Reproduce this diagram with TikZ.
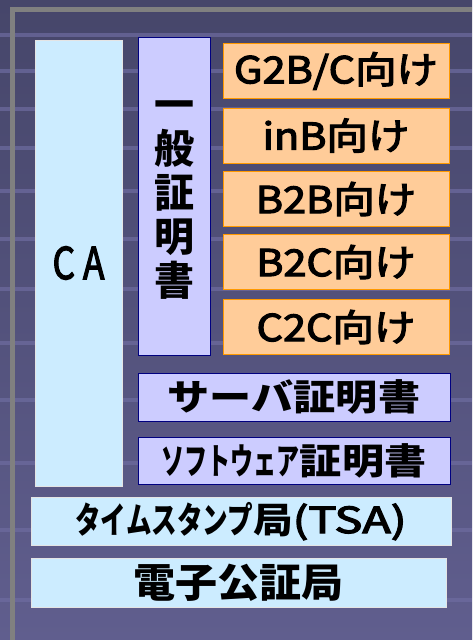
\documentclass[tikz,border=0pt]{standalone}
\usepackage{fontspec}
\usepackage{graphicx}
\newfontfamily\jp{Noto Sans CJK JP}
\newfontfamily\jpmed[FakeBold=3]{Noto Sans CJK JP}
\definecolor{bgtop}{HTML}{46466A}
\definecolor{bgbot}{HTML}{605E8E}
\definecolor{stripec}{HTML}{6E6CA0}
\definecolor{lblue}{HTML}{CCECFF}
\definecolor{lbord}{HTML}{E4E4E4}
\definecolor{lav}{HTML}{CCCCFF}
\definecolor{navy}{HTML}{000080}
\definecolor{org}{HTML}{FFCC99}
\definecolor{orgb}{HTML}{FF9900}
\definecolor{frame}{HTML}{808080}
\begin{document}
\begin{tikzpicture}[x=1pt,y=-1pt,
  box/.style={draw, line width=1pt, inner sep=0pt, text=black},
  lbluebox/.style={box, fill=lblue, draw=lbord},
  lavbox/.style={box, fill=lav, draw=navy},
  orgbox/.style={box, fill=org, draw=orgb, minimum width=226pt, minimum height=55pt,
    font=\jpmed\fontsize{37}{37}\selectfont},
  stripe/.style={line width=4pt, stripec, opacity=0.7},
  grayframe/.style={line width=5pt, frame}]
\useasboundingbox (0,0) rectangle (472,640);
\shade[top color=bgtop, bottom color=bgbot] (0,0) rectangle (472,640);
\foreach \yy in {35,71,109,148,191,239,289,343,400,463,530,600}
  \draw[stripe] (0,\yy) -- (472,\yy);
\draw[grayframe] (12,640) -- (12,9) -- (472,9);

\node[lbluebox, minimum width=87pt, minimum height=446pt,
  font=\jpmed\fontsize{44}{44}\selectfont] (ca) at (78.5,263)
  {\raisebox{-3pt}{\scalebox{0.8}[1]{C\hspace{10pt}A}}};

\node[lavbox, minimum width=72pt, minimum height=318pt] (gen) at (174,196) {};
\node[align=center, inner sep=0pt, text=black,
  font=\jp\bfseries\fontsize{40}{44}\selectfont] (genlabel) at (174,200)
  {一\\般\\証\\明\\書};

\node[orgbox] (g2b) at (336,71) {\scalebox{1.12}[1]{G2B/C向け}};
\node[orgbox] (inb) at (336,135.5) {\scalebox{1.12}[1]{inB向け}};
\node[orgbox] (b2b) at (336,199) {\scalebox{1.12}[1]{B2B向け}};
\node[orgbox] (b2c) at (336,262) {\scalebox{1.12}[1]{B2C向け}};
\node[orgbox] (c2c) at (336,327) {\scalebox{1.12}[1]{C2C向け}};

\node[lavbox, minimum width=312pt, minimum height=48pt,
  font=\jp\bfseries\fontsize{36}{36}\selectfont] (srv) at (294,397)
  {\scalebox{1.17}[1]{サーバ証明書}};
\node[lavbox, minimum width=312pt, minimum height=47pt,
  font=\jp\bfseries\fontsize{36}{36}\selectfont] (sw) at (294,460.5)
  {\scalebox{0.64}[1]{ソフトウェア}\scalebox{1.17}[1]{証明書}};

\node[lbluebox, minimum width=420pt, minimum height=48pt,
  font=\jp\bfseries\fontsize{36}{36}\selectfont] (tsa) at (241,521)
  {\scalebox{0.71}[1]{タイムスタンプ}\scalebox{1.1}[1]{局}{\mdseries\jpmed\scalebox{1.3}[1]{(TSA)}}};
\node[lbluebox, minimum width=415pt, minimum height=49pt,
  font=\jp\bfseries\fontsize{40}{40}\selectfont] (notary) at (238.5,582.5)
  {\scalebox{1.05}[1]{電子公証局}};
\end{tikzpicture}
\end{document}
